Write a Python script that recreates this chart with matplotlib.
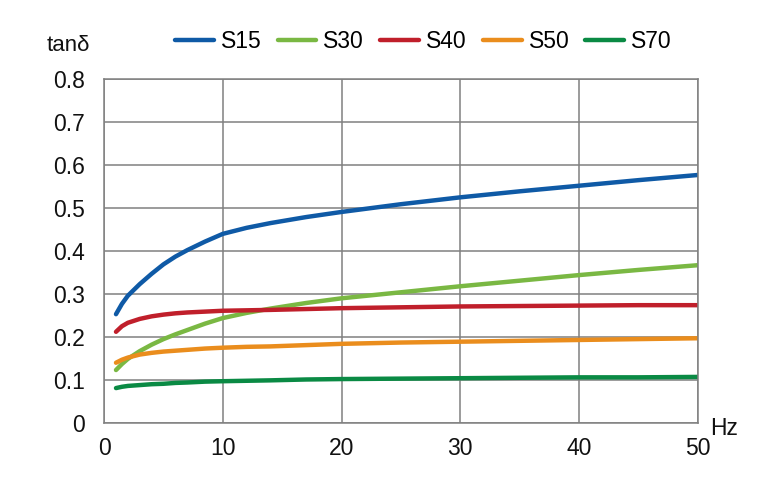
import matplotlib
matplotlib.use("Agg")
import matplotlib.pyplot as plt

plt.rcParams['font.family'] = ['Liberation Sans', 'DejaVu Sans']

freq = [1, 1.5, 2, 3, 4, 5, 6, 7, 8.5, 10, 12, 14, 17, 20, 25, 30, 35, 40, 45, 50]
s15 = [0.253, 0.277, 0.296, 0.323, 0.347, 0.369, 0.387, 0.402, 0.422, 0.440, 0.454, 0.465, 0.479, 0.491, 0.509, 0.525, 0.539, 0.552, 0.565, 0.577]
s30 = [0.123, 0.137, 0.149, 0.167, 0.182, 0.195, 0.206, 0.216, 0.231, 0.244, 0.256, 0.266, 0.279, 0.290, 0.304, 0.318, 0.331, 0.344, 0.356, 0.367]
s40 = [0.212, 0.225, 0.233, 0.242, 0.248, 0.252, 0.255, 0.257, 0.259, 0.261, 0.262, 0.263, 0.265, 0.267, 0.269, 0.271, 0.272, 0.273, 0.274, 0.274]
s50 = [0.140, 0.147, 0.152, 0.159, 0.163, 0.166, 0.168, 0.170, 0.173, 0.175, 0.177, 0.178, 0.181, 0.184, 0.187, 0.189, 0.191, 0.193, 0.195, 0.197]
s70 = [0.081, 0.084, 0.086, 0.088, 0.090, 0.091, 0.093, 0.094, 0.096, 0.097, 0.098, 0.099, 0.101, 0.102, 0.103, 0.104, 0.105, 0.106, 0.106, 0.107]

series = [("S15", s15, "#0f5aa6"), ("S30", s30, "#7ab843"), ("S40", s40, "#c01f2b"),
          ("S50", s50, "#ea8d1d"), ("S70", s70, "#0a8a44")]

fig = plt.figure(figsize=(7.6, 4.8), dpi=100)
ax = fig.add_axes([0.137, 0.119, 0.781, 0.716])

for name, vals, col in series:
    ax.plot(freq, vals, color=col, lw=3.2, label=name, solid_capstyle='round')

ax.set_xlim(0, 50)
ax.set_ylim(0, 0.8)
ax.set_xticks([0, 10, 20, 30, 40, 50])
ax.set_yticks([0, 0.1, 0.2, 0.3, 0.4, 0.5, 0.6, 0.7, 0.8])
ax.set_yticklabels(["0", "0.1", "0.2", "0.3", "0.4", "0.5", "0.6", "0.7", "0.8"])
ax.grid(True, color="#808080", lw=1.1)
ax.set_axisbelow(True)
for sp in ax.spines.values():
    sp.set_color("#808080")
    sp.set_linewidth(1.1)
ax.tick_params(length=0, labelsize=16.5, colors="#111111")
ax.tick_params(axis='y', pad=14)
ax.tick_params(axis='x', pad=10)

fig.text(0.061, 0.893, "tanδ", fontsize=16, color="#111111")
fig.text(0.935, 0.093, "Hz", fontsize=16.5, color="#111111")

leg = fig.legend(loc="upper center", bbox_to_anchor=(0.557, 0.98), ncol=5, frameon=False,
                 fontsize=16.5, handlelength=1.7, handletextpad=0.3, columnspacing=0.7)

fig.savefig("out.png", dpi=100)
